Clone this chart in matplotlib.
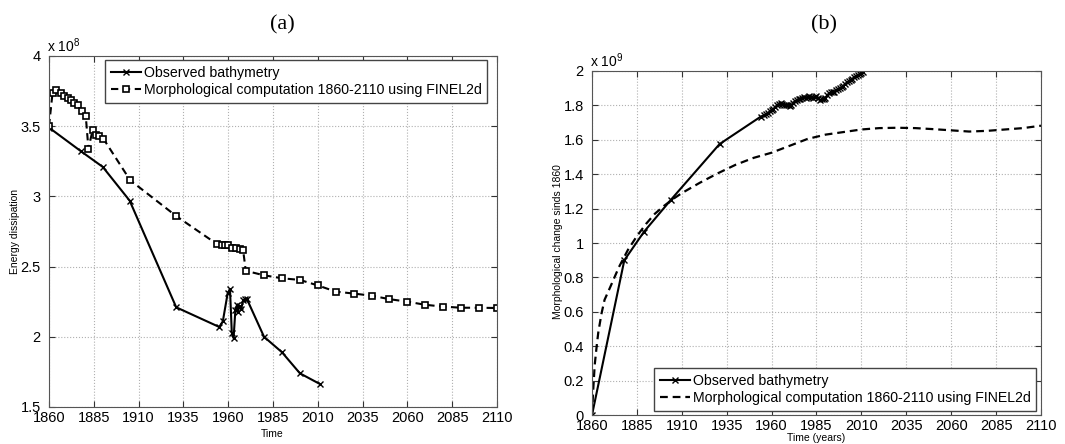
import matplotlib
matplotlib.use("Agg")
import matplotlib.pyplot as plt
from matplotlib.ticker import FixedLocator, FuncFormatter

plt.rcParams['font.family'] = ['Liberation Sans', 'DejaVu Sans']
plt.rcParams['mathtext.fontset'] = 'custom'
plt.rcParams['mathtext.rm'] = 'Liberation Sans'

# (a) energy dissipation, values in units of 1e8
obs_a_years = [1860, 1878, 1890, 1905, 1931, 1955, 1957, 1959.7, 1961, 1962, 1963,
               1964, 1965, 1965.4, 1966.4, 1967.3, 1968.3, 1969.6, 1970.4,
               1980, 1990, 2000, 2011]
obs_a_energy = [3.49, 3.32, 3.21, 2.97, 2.21, 2.07, 2.11, 2.31, 2.34, 2.03, 1.99,
                2.19, 2.23, 2.18, 2.22, 2.20, 2.26, 2.27, 2.27,
                2.00, 1.89, 1.74, 1.665]

mod_a_years = [1860, 1862, 1864, 1866.5, 1868.5, 1870.5, 1872.5, 1874, 1876, 1878.5,
               1880.5, 1882, 1884.3, 1886.2, 1888.1, 1890.4, 1905.3, 1931,
               1954, 1956.3, 1958.2, 1960.1, 1962, 1964.5, 1966.4, 1968.3, 1969.8,
               1980, 1990, 2000, 2010, 2020, 2030, 2040, 2050, 2060, 2070, 2080,
               2090, 2100, 2110]
mod_a_energy = [3.50, 3.74, 3.755, 3.735, 3.715, 3.70, 3.685, 3.665, 3.65, 3.61,
                3.575, 3.34, 3.47, 3.44, 3.43, 3.41, 3.115, 2.86,
                2.658, 2.656, 2.655, 2.652, 2.632, 2.63, 2.625, 2.62, 2.47,
                2.438, 2.417, 2.405, 2.366, 2.322, 2.308, 2.293, 2.268, 2.25,
                2.228, 2.215, 2.207, 2.207, 2.205]

# (b) morphological change since 1860, values in units of 1e9
obs_b_years = [1860, 1878, 1889, 1904, 1931, 1954, 1956, 1957, 1958, 1959, 1960,
               1961, 1962, 1963, 1964, 1965, 1966, 1967, 1968, 1969, 1970, 1971,
               1972, 1973, 1974, 1975, 1976, 1977, 1978, 1979, 1980, 1981, 1982,
               1983, 1984, 1985, 1986, 1987, 1988, 1989, 1990, 1991, 1992, 1993,
               1994, 1995, 1996, 1997, 1998, 1999, 2000, 2001, 2002, 2003, 2004,
               2005, 2006, 2007, 2008, 2009, 2010, 2011]
obs_b_change = [0.0, 0.90, 1.066, 1.252, 1.575, 1.735, 1.745, 1.75, 1.755, 1.765,
                1.775, 1.78, 1.79, 1.80, 1.81, 1.815, 1.81, 1.80, 1.805, 1.80,
                1.795, 1.80, 1.815, 1.825, 1.83, 1.835, 1.84, 1.845, 1.85, 1.845,
                1.85, 1.855, 1.85, 1.845, 1.85, 1.855, 1.845, 1.83, 1.835, 1.84,
                1.845, 1.86, 1.87, 1.875, 1.875, 1.88, 1.89, 1.895, 1.90, 1.905,
                1.915, 1.925, 1.935, 1.94, 1.95, 1.955, 1.965, 1.97, 1.975, 1.98,
                1.99, 1.995]

mod_b_years = [1860, 1860.7, 1861.5, 1862.6, 1863.5, 1865.3, 1867, 1870, 1875,
               1880, 1885, 1890, 1895, 1900, 1905, 1910, 1920, 1930, 1940, 1950,
               1960, 1970, 1980, 1990, 2000, 2010, 2020, 2030, 2040, 2050, 2060,
               2070, 2080, 2090, 2100, 2110]
mod_b_change = [0.0, 0.15, 0.29, 0.40, 0.48, 0.59, 0.67, 0.74, 0.86,
                0.96, 1.04, 1.11, 1.17, 1.215, 1.255, 1.29, 1.35, 1.405, 1.455,
                1.495, 1.525, 1.565, 1.605, 1.63, 1.645, 1.66, 1.668, 1.67, 1.668,
                1.662, 1.655, 1.648, 1.652, 1.66, 1.668, 1.682]

year_ticks = list(range(1860, 2111, 25))
energy_ticks = [1.5, 2, 2.5, 3, 3.5, 4]
change_ticks = [0, 0.2, 0.4, 0.6, 0.8, 1, 1.2, 1.4, 1.6, 1.8, 2]

label_obs = 'Observed bathymetry'
label_mod = 'Morphological computation 1860-2110 using FINEL2d'

W, H = 1065, 444
fig = plt.figure(figsize=(W / 100, H / 100), dpi=100)


def px_axes(x0, x1, ytop, ybot):
    return fig.add_axes([x0 / W, 1 - ybot / H, (x1 - x0) / W, (ybot - ytop) / H])


def style(ax, yticks):
    ax.set_xlim(1860, 2110)
    ax.xaxis.set_major_locator(FixedLocator(year_ticks))
    ax.yaxis.set_major_locator(FixedLocator(yticks))
    ax.yaxis.set_major_formatter(FuncFormatter(lambda v, p: f'{v:g}'))
    ax.grid(True, linestyle=':', color='#b0b0b0', linewidth=0.8)
    ax.tick_params(direction='in', top=True, right=True, length=4,
                   labelsize=10.5, color='#333333')
    ax.tick_params(axis='x', pad=3)
    ax.tick_params(axis='y', pad=6)
    for s in ax.spines.values():
        s.set_color('#555555')
        s.set_linewidth(0.8)


def legend(ax, loc, anchor):
    ax.legend(loc=loc, bbox_to_anchor=anchor, borderaxespad=0,
              fontsize=10.2, fancybox=False, framealpha=1, edgecolor='#444444',
              handlelength=2.1, handletextpad=0.2, borderpad=0.4,
              labelspacing=0.25)


ax1 = px_axes(49, 497, 56, 407)
ax1.plot(obs_a_years, obs_a_energy, '-', color='black', lw=1.5,
         marker='x', ms=4, mew=1.0, label=label_obs)
ax1.plot(mod_a_years, mod_a_energy, '--', color='black', lw=1.5, dashes=(3.5, 2.2),
         marker='s', ms=5, mfc='white', mec='black', mew=1.2, label=label_mod)
ax1.set_ylim(1.5, 4)
style(ax1, energy_ticks)
legend(ax1, 'upper right', (0.978, 0.989))

ax2 = px_axes(592, 1041, 71, 415)
ax2.plot(obs_b_years, obs_b_change, '-', color='black', lw=1.5,
         marker='x', ms=4, mew=1.0, label=label_obs)
ax2.plot(mod_b_years, mod_b_change, '--', color='black', lw=1.6, dashes=(3.5, 2.2),
         label=label_mod)
ax2.set_ylim(0, 2)
style(ax2, change_ticks)
legend(ax2, 'lower right', (0.989, 0.012))

# panel letters, axis labels and multipliers
fig.text(282 / W, 1 - 25 / H, '(a)', family='Liberation Serif', fontsize=16,
         ha='center', va='center')
fig.text(824 / W, 1 - 25 / H, '(b)', family='Liberation Serif', fontsize=16,
         ha='center', va='center')
fig.text(272 / W, 1 - 434 / H, 'Time', fontsize=7.5, ha='center', va='center')
fig.text(816 / W, 1 - 438 / H, 'Time (years)', fontsize=7.5, ha='center', va='center')
fig.text(15 / W, 1 - 232 / H, 'Energy dissipation', fontsize=7.5, rotation=90,
         ha='center', va='center')
fig.text(558 / W, 1 - 242 / H, 'Morphological change sinds 1860', fontsize=7.5,
         rotation=90, ha='center', va='center')
fig.text(47 / W, 1 - 46 / H, r'x 10$^{8}$', fontsize=10, ha='left', va='center')
fig.text(590 / W, 1 - 61 / H, r'x 10$^{9}$', fontsize=10, ha='left', va='center')

fig.savefig('out.png', dpi=100)
